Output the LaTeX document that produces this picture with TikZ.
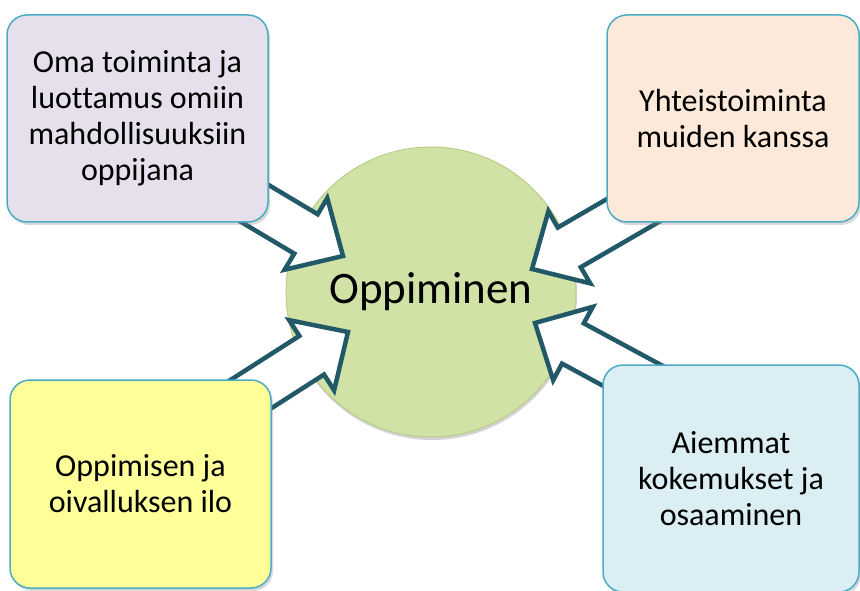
\documentclass[tikz,border=0pt]{standalone}
\usepackage{fontspec}
\setmainfont[Ligatures=NoCommon]{Carlito}
\usetikzlibrary{calc,shadows}

\definecolor{rimblue}{RGB}{75,172,198}
\definecolor{arrowteal}{RGB}{33,89,104}
\definecolor{ballgreen}{RGB}{209,226,166}
\definecolor{ballrim}{RGB}{186,204,140}
\definecolor{lavender}{RGB}{229,224,236}
\definecolor{peach}{RGB}{253,233,217}
\definecolor{lemon}{RGB}{255,255,153}
\definecolor{icyblue}{RGB}{218,238,243}

\tikzset{
  topic/.style={draw=rimblue, line width=1.5pt, rounded corners=20pt,
    align=center, inner sep=0pt, font=\fontsize{32}{36}\selectfont,
    drop shadow={shadow xshift=2pt, shadow yshift=-3pt, opacity=0.3}},
  flow/.style={draw=arrowteal, line width=4.5pt, fill=white, line join=miter},
}

% block arrow from tail #1 to tip #2
\newcommand{\blockarrow}[2]{%
  \draw[flow] (#2) -- ($(#2)!60pt!44:(#1)$) -- ($(#2)!48.8pt!28:(#1)$)
    -- ($(#1)!23pt!-90:(#2)$) -- ($(#1)!23pt!90:(#2)$)
    -- ($(#2)!48.8pt!-28:(#1)$) -- ($(#2)!60pt!-44:(#1)$) -- cycle;}

\begin{document}
\begin{tikzpicture}[x=1pt, y=1pt]
	\useasboundingbox (0,0) rectangle (860,590);

	\node[circle, minimum size=290pt, inner sep=0pt, fill=ballgreen, draw=ballrim, line width=1pt,
		drop shadow={shadow xshift=1pt, shadow yshift=-3pt, opacity=0.35},
		font=\fontsize{45}{48}\selectfont] (learn) at (431,298) {Oppiminen};

	\coordinate (tailTL) at (150,449);  \coordinate (tipTL) at (343,334);
	\coordinate (tailTR) at (732,437);  \coordinate (tipTR) at (532,321);
	\coordinate (tailBL) at (148,130);  \coordinate (tipBL) at (348,258);
	\coordinate (tailBR) at (735,159);  \coordinate (tipBR) at (535,267);

	\foreach \from/\to in {tailTL/tipTL, tailTR/tipTR, tailBL/tipBL, tailBR/tipBR}
		\blockarrow{\from}{\to};

	\node[topic, fill=lavender, minimum width=261pt, minimum height=207pt] (own) at (137.5,471.5)
		{Oma toiminta ja\\luottamus omiin\\mahdollisuuksiin\\oppijana};
	\node[topic, fill=peach, minimum width=252pt, minimum height=207pt] (together) at (733,471.5)
		{Yhteistoiminta\\muiden kanssa};
	\node[topic, fill=lemon, minimum width=261pt, minimum height=208pt] (joy) at (140.5,106)
		{Oppimisen ja\\oivalluksen ilo};
	\node[topic, fill=icyblue, minimum width=256pt, minimum height=227pt] (prior) at (731,111.5)
		{Aiemmat\\kokemukset ja\\osaaminen};
\end{tikzpicture}
\end{document}
